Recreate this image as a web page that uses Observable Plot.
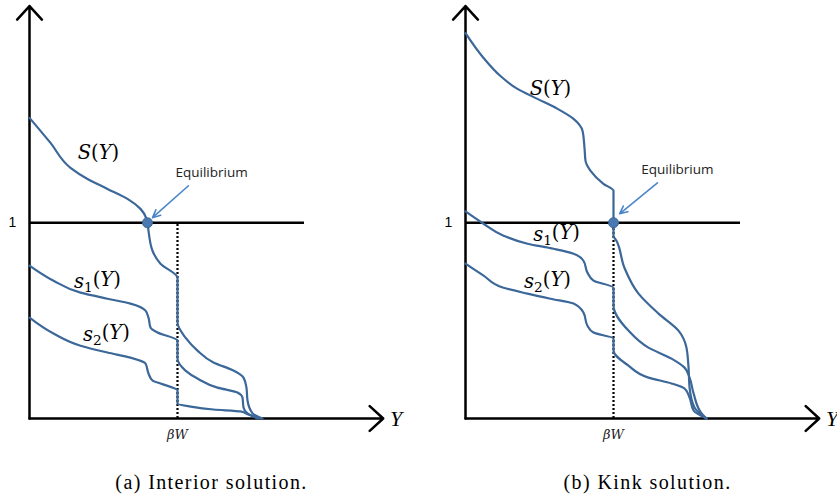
<!DOCTYPE html>
<html><head><meta charset="utf-8">
<script src="https://cdn.jsdelivr.net/npm/d3@7"></script>
<script src="https://cdn.jsdelivr.net/npm/@observablehq/plot@0.6"></script>
<style>
body{margin:0;background:#fff;}
svg{background:#fff;}
</style></head><body><div id="chart"></div>
<script>
// Panels and captions
const panels = ["a", "b"];
const captions = ["(a) Interior solution.", "(b) Kink solution."];

// Curves: [Y (units of βW), value (units where the horizontal line = 1)]
const S_a = [[0,1.536],[0.142,1.408],[0.277,1.281],[0.392,1.224],[0.527,1.173],[0.662,1.122],[0.75,1.071],[0.791,1.02],[0.797,1.0],[0.804,0.959],[0.831,0.857],[0.885,0.791],[1.0,0.719],[1.0,0.49],[1.054,0.413],[1.135,0.347],[1.243,0.286],[1.378,0.245],[1.446,0.209],[1.466,0.158],[1.473,0.092],[1.507,0.026],[1.574,0]];
const s1_a = [[0,0.781],[0.162,0.704],[0.345,0.643],[0.527,0.612],[0.682,0.587],[0.784,0.551],[0.804,0.515],[0.818,0.464],[0.865,0.439],[1.0,0.398],[1.0,0.306],[1.054,0.245],[1.135,0.204],[1.27,0.158],[1.405,0.133],[1.439,0.107],[1.446,0.056],[1.473,0.026],[1.541,0]];
const s2_a = [[0,0.515],[0.162,0.434],[0.345,0.372],[0.527,0.337],[0.682,0.311],[0.784,0.281],[0.804,0.23],[0.831,0.194],[0.885,0.179],[1.0,0.143],[1.0,0.077],[1.088,0.061],[1.243,0.046],[1.426,0.036],[1.48,0.02],[1.561,0]];
const S_b = [[0,1.969],[0.122,1.842],[0.236,1.75],[0.351,1.684],[0.486,1.633],[0.622,1.582],[0.73,1.531],[0.791,1.469],[0.804,1.383],[0.811,1.316],[0.845,1.265],[0.932,1.199],[1.0,1.163],[1.0,1.0],[1.0,0.934],[1.02,0.908],[1.074,0.77],[1.169,0.638],[1.304,0.536],[1.439,0.449],[1.493,0.362],[1.507,0.26],[1.514,0.158],[1.547,0.056],[1.628,0]];
const s1_b = [[0,1.058],[0.122,0.995],[0.257,0.934],[0.419,0.893],[0.595,0.867],[0.73,0.842],[0.797,0.806],[0.824,0.745],[0.865,0.704],[1.0,0.668],[1.0,0.577],[1.101,0.449],[1.236,0.362],[1.392,0.306],[1.48,0.26],[1.514,0.209],[1.541,0.128],[1.595,0.026],[1.628,0]];
const s2_b = [[0,0.791],[0.122,0.73],[0.257,0.668],[0.419,0.638],[0.574,0.612],[0.73,0.587],[0.797,0.541],[0.824,0.474],[0.865,0.439],[1.0,0.408],[1.0,0.347],[1.101,0.27],[1.236,0.209],[1.392,0.179],[1.48,0.153],[1.514,0.107],[1.541,0.041],[1.628,0]];

// Curve labels
const curveLabels = ["S(Y)", "s1(Y)", "s2(Y)"];
const curveLabelX = {a: [0.466, 0.459, 0.52], b: [0.574, 0.615, 0.554]};
const curveLabelY = {a: [1.357, 0.7, 0.43], b: [1.684, 0.94, 0.70]};

// Equilibrium point, annotation and arrow
const equilibriumX = [0.797, 1.0];
const equilibriumY = [1, 1];
const eqLabelX = [1.23, 1.432];
const eqLabelY = [1.255, 1.27];
const eqArrowFrom = [[1.074, 1.189], [1.297, 1.204]];
const eqArrowTo = [[0.831, 1.026], [1.041, 1.046]];

// Axis and reference values
const betaW = 1;
const unitLevel = 1;
const xAxisEnd = 2.39;
const yAxisEnd = 2.107;
const unitLineEnd = 1.858;
const captionX = 1.23;

// Build tables
const curveDefs = [["a","S",S_a],["a","s1",s1_a],["a","s2",s2_a],["b","S",S_b],["b","s1",s1_b],["b","s2",s2_b]];
const curveRows = curveDefs.flatMap(([panel, name, pts]) => pts.map(([x, y]) => ({panel, series: panel + name, x, y})));
const panelRows = panels.map((panel, i) => ({panel, caption: captions[i]}));
const labelRows = panels.flatMap(p => curveLabels.map((t, i) => ({panel: p, text: t, x: curveLabelX[p][i], y: curveLabelY[p][i]})));
const eqRows = panels.map((panel, i) => ({
  panel, x: equilibriumX[i], y: equilibriumY[i], lx: eqLabelX[i], ly: eqLabelY[i],
  x1: eqArrowFrom[i][0], y1: eqArrowFrom[i][1], x2: eqArrowTo[i][0], y2: eqArrowTo[i][1]
}));

const blue = "#3b6799";
const arrowBlue = "#4a86c8";

const chart = Plot.plot({
  width: 837,
  height: 498,
  marginLeft: 29,
  marginRight: 2,
  marginTop: 5,
  marginBottom: 80,
  fx: {domain: panels, paddingInner: 0.1514, paddingOuter: 0, round: false, axis: null, label: null},
  x: {domain: [0, 2.5], axis: null},
  y: {domain: [0, 2.11], axis: null},
  marks: [
    Plot.ruleX(panelRows, {fx: "panel", x: () => betaW, y1: 0, y2: unitLevel, stroke: "#000", strokeWidth: 2.2, strokeDasharray: "2,2"}),
    Plot.ruleY(panelRows, {fx: "panel", y: () => unitLevel, x1: 0, x2: unitLineEnd, stroke: "#000", strokeWidth: 2.5}),
    Plot.arrow(panelRows, {fx: "panel", x1: 0, y1: 0, x2: xAxisEnd, y2: 0, stroke: "#000", strokeWidth: 2.5, headLength: 11, headAngle: 85}),
    Plot.arrow(panelRows, {fx: "panel", x1: 0, y1: 0, x2: 0, y2: yAxisEnd, stroke: "#000", strokeWidth: 2.5, headLength: 11, headAngle: 85}),
    Plot.line(curveRows, {fx: "panel", x: "x", y: "y", z: "series", curve: "monotone-y", stroke: blue, strokeWidth: 2.2}),
    Plot.dot(eqRows, {fx: "panel", x: "x", y: "y", r: 5, fill: "#4a78b0", stroke: "#3b6799", strokeWidth: 1}),
    Plot.arrow(eqRows, {fx: "panel", x1: "x1", y1: "y1", x2: "x2", y2: "y2", stroke: arrowBlue, strokeWidth: 1.6, headLength: 8, headAngle: 50}),
    Plot.text(eqRows, {fx: "panel", x: "lx", y: "ly", text: () => "Equilibrium", fontFamily: "Open Sans", fontSize: 13.5, fill: "#222"}),
    Plot.text(panelRows, {fx: "panel", x: () => 0, y: () => unitLevel, dx: -17, text: () => "1", fontFamily: "Liberation Sans", fontSize: 14, fill: "#000"}),
    Plot.text(panelRows, {fx: "panel", x: () => betaW, y: () => 0, dy: 16, text: () => "βW", fontFamily: "DejaVu Serif", fontSize: 13, fill: "#222"}),
    Plot.text(panelRows, {fx: "panel", x: () => xAxisEnd, y: () => 0, dx: 13, text: () => "Y", fontFamily: "Liberation Serif", fontSize: 22, fontStyle: "italic", fill: "#000"}),
    Plot.text(labelRows, {fx: "panel", x: "x", y: "y", text: "text", fontFamily: "DejaVu Serif", fontSize: 19.5, fill: "#000"}),
    Plot.text(panelRows, {fx: "panel", x: () => captionX, y: () => 0, dy: 64, text: "caption", fontFamily: "Liberation Serif", fontSize: 20, fill: "#000"})
  ]
});

// Render math-style labels: italic letters, upright parentheses, subscript digits
const mathSet = new Set(["S(Y)", "s1(Y)", "s2(Y)", "βW"]);
d3.select(chart).selectAll("text").each(function() {
  const el = d3.select(this);
  const t = this.textContent;
  if (t.startsWith("(a)") || t.startsWith("(b)")) el.style("letter-spacing", "1.4px");
  if (!mathSet.has(t)) return;
  el.text(null);
  let sub = false;
  for (const ch of t) {
    const ts = el.append("tspan").text(ch);
    if (/[0-9]/.test(ch)) {
      ts.attr("font-size", "0.7em").attr("dy", "0.3em").attr("font-style", "normal");
      sub = true;
    } else {
      if (sub) { ts.attr("dy", "-0.3em"); sub = false; }
      ts.attr("font-style", /[()]/.test(ch) ? "normal" : "italic");
    }
  }
});

document.getElementById("chart").appendChild(chart);
</script>
</body></html>
